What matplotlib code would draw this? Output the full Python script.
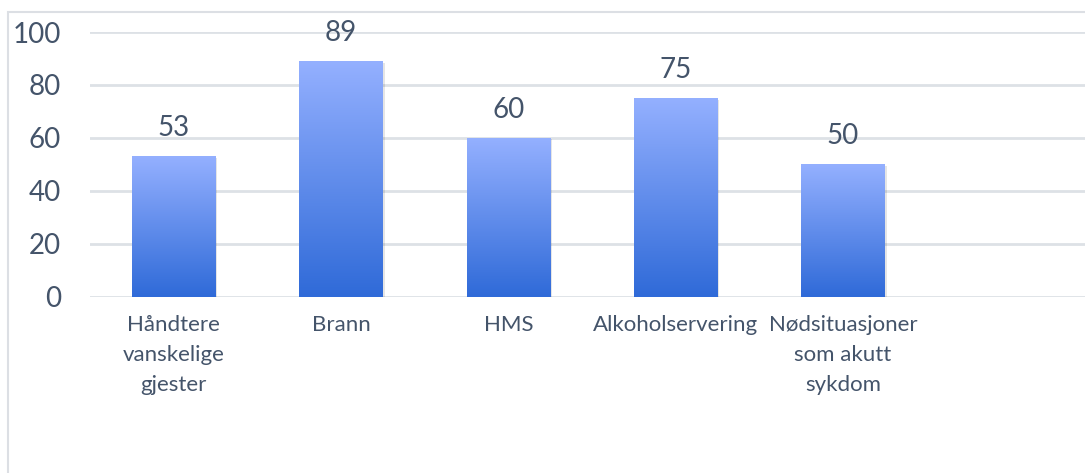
import matplotlib
matplotlib.use("Agg")
import matplotlib.pyplot as plt
import numpy as np
from matplotlib.colors import LinearSegmentedColormap
from matplotlib.patches import Rectangle

categories = ["Håndtere\nvanskelige\ngjester", "Brann", "HMS", "Alkoholservering",
              "Nødsituasjoner\nsom akutt\nsykdom", ""]
values = [53, 89, 60, 75, 50]
yticks = [0, 20, 40, 60, 80, 100]

W, H = 1085, 473
fig = plt.figure(figsize=(W / 100, H / 100), dpi=100)
ax = fig.add_axes([90 / W, (H - 296.7) / H, (1094 - 90) / W, (296.7 - 32) / H])
text_color = "#44546A"
font = "Lato"

cmap = LinearSegmentedColormap.from_list("g", [(47/255, 106/255, 216/255), (148/255, 176/255, 255/255)])
grad = np.linspace(0, 1, 256).reshape(-1, 1)

x = np.arange(len(categories))
bars = ax.bar(x[:len(values)], values, width=0.5, color="none", zorder=3)
for b, v in zip(bars, values):
    x0, w = b.get_x(), b.get_width()
    # subtle shadow
    ax.add_patch(Rectangle((x0 + 0.01, -0.6), w, v, facecolor="#000000", alpha=0.1,
                           edgecolor="none", zorder=2.5))
    im = ax.imshow(grad, extent=[x0, x0 + w, 0, v], origin="lower", cmap=cmap,
                   aspect="auto", zorder=3)
    im.set_clip_path(b)
    ax.annotate(str(v), (b.get_x() + w / 2, v), xytext=(0, 14.4), textcoords="offset points",
                ha="center", va="baseline", fontsize=20, color=text_color, family=font)

ax.set_xlim(-0.5, len(categories) - 0.5)
ax.set_ylim(0, 100)
ax.set_yticks(yticks)
ax.set_yticklabels([str(t) for t in yticks], fontsize=20, color=text_color, family=font)
ax.set_xticks(x)
ax.set_xticklabels(categories, fontsize=16, color=text_color, family=font, linespacing=1.62)
ax.tick_params(axis="both", length=0)
ax.tick_params(axis="y", pad=21)
ax.tick_params(axis="x", pad=13)
ax.grid(axis="y", color="#DDE1E6", linewidth=2, zorder=0)
ax.set_axisbelow(True)
for s in ax.spines.values():
    s.set_visible(False)

fig.add_artist(Rectangle((8 / W, -0.1), 1.2, (H - 12) / H + 0.1, transform=fig.transFigure,
                         facecolor="none", edgecolor="#DCDFE4", linewidth=1.5))

fig.savefig("out.png", dpi=100)
